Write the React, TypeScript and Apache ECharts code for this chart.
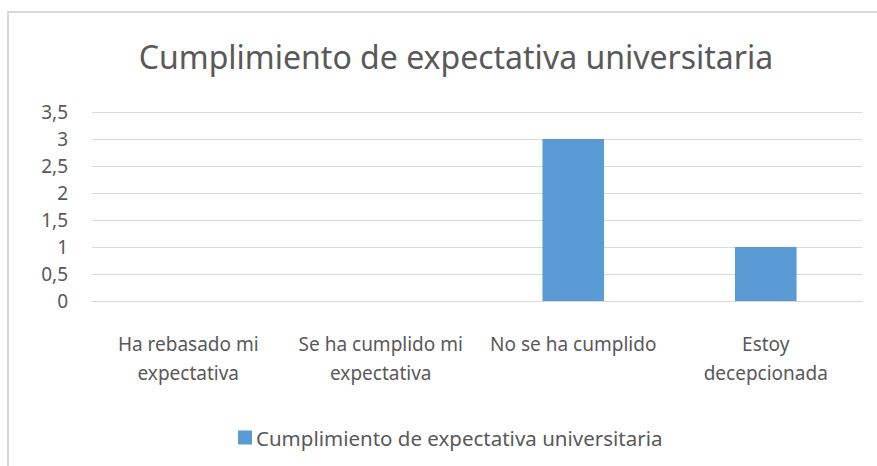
import React, { useEffect, useRef } from "react";
import * as echarts from "echarts";

const chartTitle = "Cumplimiento de expectativa universitaria";
const seriesName = "Cumplimiento de expectativa universitaria";
const categories = [
  "Ha rebasado mi\nexpectativa",
  "Se ha cumplido mi\nexpectativa",
  "No se ha cumplido",
  "Estoy\ndecepcionada",
];
const values = [0, 0, 3, 1];
const yMin = 0;
const yMax = 3.5;
const yStep = 0.5;

const FONT = "'Noto Sans', sans-serif";
const TEXT = "#595959";
const GRID = "#d9d9d9";
const BAR = "#5b9bd5";

export default function App() {
  const ref = useRef<HTMLDivElement>(null);
  useEffect(() => {
    if (!ref.current) return;
    const chart = echarts.init(ref.current, null, { renderer: "svg" });
    chart.setOption({
      animation: false,
      backgroundColor: "#ffffff",
      textStyle: { fontFamily: FONT },
      title: {
        text: chartTitle,
        left: 451,
        top: 35,
        textAlign: "center",
        textStyle: { fontFamily: FONT, fontSize: 32, fontWeight: "normal", color: TEXT },
      },
      legend: {
        bottom: 18,
        left: 238,
        padding: 0,
        icon: "rect",
        itemWidth: 14,
        itemHeight: 14,
        itemGap: 5,
        textStyle: { fontFamily: FONT, fontSize: 20.5, color: TEXT, padding: [0, 0, 0, -1] },
        data: [seriesName],
      },
      grid: { left: 92, right: 15, top: 112, bottom: 165, containLabel: false },
      xAxis: {
        type: "category",
        data: categories,
        axisLine: { show: true, lineStyle: { color: GRID, width: 1 } },
        axisTick: { show: false },
        axisLabel: {
          interval: 0,
          color: TEXT,
          fontFamily: FONT,
          fontSize: 19,
          lineHeight: 29,
          margin: 28,
        },
      },
      yAxis: {
        type: "value",
        min: yMin,
        max: yMax,
        interval: yStep,
        axisLine: { show: false },
        axisTick: { show: false },
        splitLine: { lineStyle: { color: GRID, width: 1 } },
        axisLabel: {
          color: TEXT,
          fontFamily: FONT,
          fontSize: 19,
          margin: 24,
          formatter: (v: number) => String(v).replace(".", ","),
        },
      },
      series: [
        {
          name: seriesName,
          type: "bar",
          data: values,
          barWidth: "32%",
          itemStyle: { color: BAR, borderWidth: 0 },
        },
      ],
      graphic: [
        {
          type: "line",
          shape: { x1: 8, y1: 12, x2: 8, y2: 466 },
          style: { stroke: GRID, lineWidth: 2 },
        },
        {
          type: "line",
          shape: { x1: 7, y1: 12, x2: 877, y2: 12 },
          style: { stroke: GRID, lineWidth: 2 },
        },
      ],
    });
    return () => chart.dispose();
  }, []);
  return (
    <div
      ref={ref}
      style={{ position: "fixed", left: 0, top: 0, width: 877, height: 466, background: "#fff" }}
    />
  );
}
